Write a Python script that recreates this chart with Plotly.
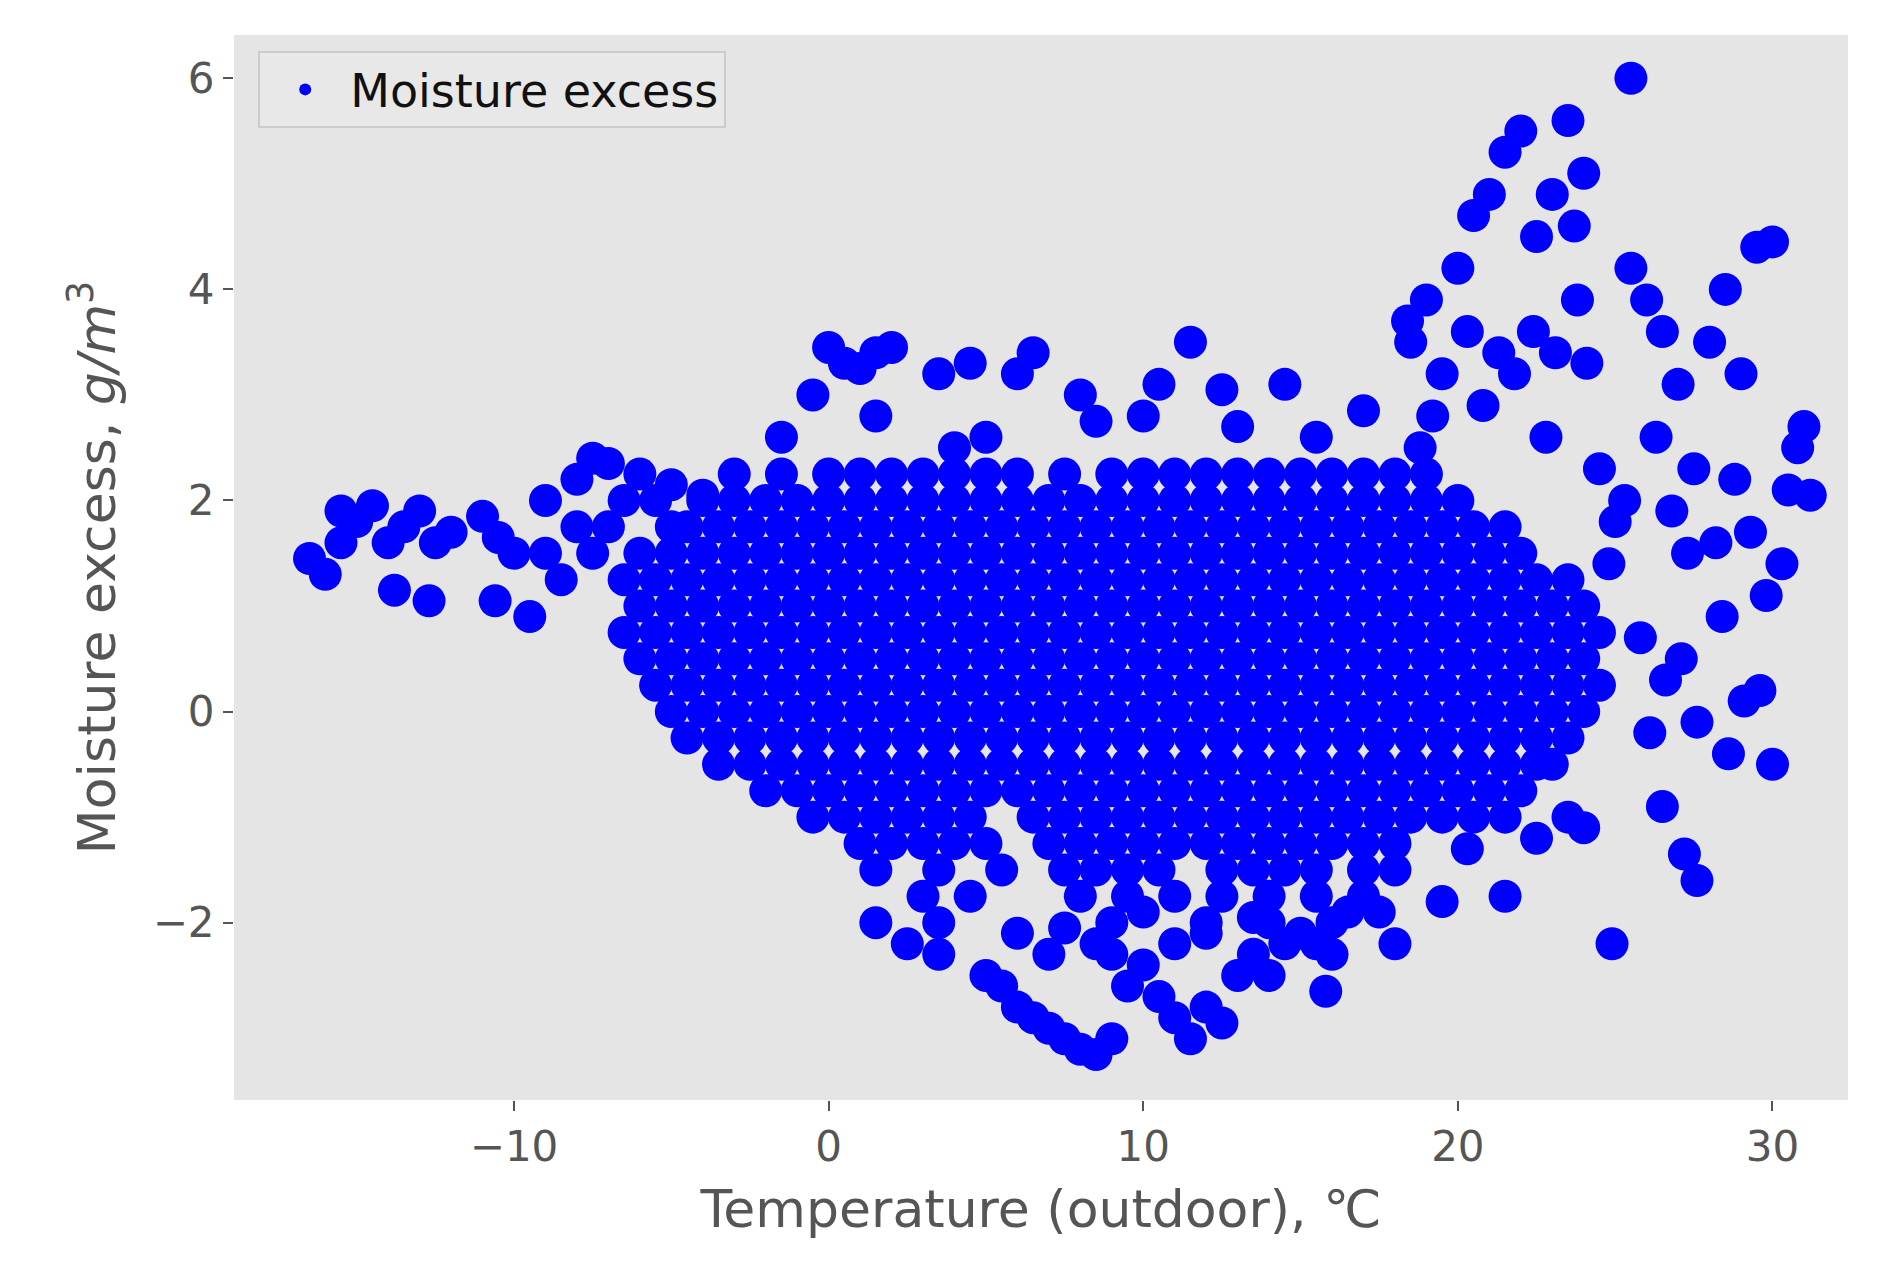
import plotly.graph_objects as go

# dense core of the cloud, read row by row (y level -> x positions)
core_y = [2.25, 2.0, 1.75, 1.5, 1.25, 1.0, 0.75, 0.5, 0.25, 0.0,
          -0.25, -0.5, -0.75, -1.0, -1.25, -1.5, -1.75, -2.0]
core_x = [
    [-3, -1.5, 0, 1, 2, 3, 4, 5, 6, 7.5, 9, 10, 11, 12, 13, 14, 15, 16, 17, 18, 19],
    [-6.5, -5.5, -4, -3, -2, -1, 0, 1, 2, 3, 4, 5, 6, 7, 8, 9, 10, 11, 12, 13, 14, 15, 16, 17, 18, 19, 20],
    [-8, -7, -5, -4.5, -3.5, -2.5, -1.5, -0.5, 0.5, 1.5, 2.5, 3.5, 4.5, 5.5, 6.5, 7.5, 8.5, 9.5, 10.5, 11.5, 12.5, 13.5, 14.5, 15.5, 16.5, 17.5, 18.5, 19.5, 20.5, 21.5],
    [-9, -7.5, -6, -5, -4, -3, -2, -1, 0, 1, 2, 3, 4, 5, 6, 7, 8, 9, 10, 11, 12, 13, 14, 15, 16, 17, 18, 19, 20, 21, 22],
    [-8.5, -6.5, -5.5, -4.5, -3.5, -2.5, -1.5, -0.5, 0.5, 1.5, 2.5, 3.5, 4.5, 5.5, 6.5, 7.5, 8.5, 9.5, 10.5, 11.5, 12.5, 13.5, 14.5, 15.5, 16.5, 17.5, 18.5, 19.5, 20.5, 21.5, 22.5, 23.5],
    [-6, -5, -4, -3, -2, -1, 0, 1, 2, 3, 4, 5, 6, 7, 8, 9, 10, 11, 12, 13, 14, 15, 16, 17, 18, 19, 20, 21, 22, 23, 24],
    [-6.5, -5.5, -4.5, -3.5, -2.5, -1.5, -0.5, 0.5, 1.5, 2.5, 3.5, 4.5, 5.5, 6.5, 7.5, 8.5, 9.5, 10.5, 11.5, 12.5, 13.5, 14.5, 15.5, 16.5, 17.5, 18.5, 19.5, 20.5, 21.5, 22.5, 23.5, 24.5],
    [-6, -5, -4, -3, -2, -1, 0, 1, 2, 3, 4, 5, 6, 7, 8, 9, 10, 11, 12, 13, 14, 15, 16, 17, 18, 19, 20, 21, 22, 23, 24],
    [-5.5, -4.5, -3.5, -2.5, -1.5, -0.5, 0.5, 1.5, 2.5, 3.5, 4.5, 5.5, 6.5, 7.5, 8.5, 9.5, 10.5, 11.5, 12.5, 13.5, 14.5, 15.5, 16.5, 17.5, 18.5, 19.5, 20.5, 21.5, 22.5, 23.5, 24.5],
    [-5, -4, -3, -2, -1, 0, 1, 2, 3, 4, 5, 6, 7, 8, 9, 10, 11, 12, 13, 14, 15, 16, 17, 18, 19, 20, 21, 22, 23, 24],
    [-4.5, -3.5, -2.5, -1.5, -0.5, 0.5, 1.5, 2.5, 3.5, 4.5, 5.5, 6.5, 7.5, 8.5, 9.5, 10.5, 11.5, 12.5, 13.5, 14.5, 15.5, 16.5, 17.5, 18.5, 19.5, 20.5, 21.5, 22.5, 23.5],
    [-3.5, -2.5, -1.5, -0.5, 0.5, 1.5, 2.5, 3.5, 4.5, 5.5, 6.5, 7.5, 8.5, 9.5, 10.5, 11.5, 12.5, 13.5, 14.5, 15.5, 16.5, 17.5, 18.5, 19.5, 20.5, 21.5, 22.5, 23],
    [-2, -1, 0, 1, 2, 3, 4, 5, 6, 7, 8, 9, 10, 11, 12, 13, 14, 15, 16, 17, 18, 19, 20, 21, 22],
    [-0.5, 0.5, 1.5, 2.5, 3.5, 4.5, 6.5, 7.5, 8.5, 9.5, 10.5, 11.5, 12.5, 13.5, 14.5, 15.5, 16.5, 17.5, 18.5, 19.5, 20.5, 21.5],
    [1, 2, 3, 4, 5, 7, 8, 9, 10, 11, 12, 13, 14, 15, 16, 17, 18],
    [1.5, 3.5, 5.5, 7.5, 8.5, 9.5, 10.5, 12.5, 13.5, 14.5, 15.5, 17, 18],
    [3, 4.5, 8, 9.5, 11, 12.5, 14, 15.5, 17],
    [3.5, 9, 12, 14, 16],
]

# scattered points around the core
out_x = [-16.5, -16, -15.5, -15, -14.5, -14, -13.5, -13, -12.5, -12, -11, -10.5, -10, -15.5, -13.8, -12.7, -10.6, -9.5,
         -9, -8, -7, -6, -5, -4, -7.5,
         0, 0.5, 1, 1.5, 2, 3.5, 4.5, 6.5, 6, 8, 11.5, 10.5, 14.5, 17, 12.5,
         -0.5, -1.5, 1.5, 4, 5, 8.5, 10, 13, 15.5,
         18.5, 19, 19.5, 20, 20.5, 21, 21.5, 22, 22.5, 23, 23.5, 24, 25.5, 23.7, 20.3, 21.3, 22.4, 23.1, 24.1,
         19.2, 18.8, 20.8, 21.8, 22.8, 23.8, 18.4,
         24.5, 25, 25.5, 26, 26.5, 27, 27.5, 28, 28.5, 29, 29.5, 30, 30.5, 31,
         24.8, 25.3, 26.3, 26.8, 27.3, 28.2, 28.8, 29.3, 29.8, 30.3, 30.8, 31.2,
         25.8, 26.6, 27.6, 28.4, 29.6, 30.0, 26.1, 27.1, 28.6, 29.1,
         26.5, 27.2, 27.6, 24.9, 21.5, 19.5, 15.8, 16.5,
         5, 5.5, 6, 6.5, 7, 7.5, 8, 8.5, 9, 9.5, 10, 10.5, 11, 11.5, 12, 12.5, 13, 13.5, 14, 14.5, 15, 16,
         6, 7, 7.5, 8.5, 10, 11, 12, 13.5, 15.5, 9, 1.5, 2.5, 3.5, 18, 17.5, 20.3, 22.5, 23.5, 24]
out_y = [1.45, 1.3, 1.6, 1.8, 1.95, 1.6, 1.75, 1.9, 1.6, 1.7, 1.85, 1.65, 1.5, 1.9, 1.15, 1.05, 1.05, 0.9,
         2.0, 2.2, 2.35, 2.25, 2.15, 2.05, 2.4,
         3.45, 3.3, 3.25, 3.4, 3.45, 3.2, 3.3, 3.4, 3.2, 3.0, 3.5, 3.1, 3.1, 2.85, 3.05,
         3.0, 2.6, 2.8, 2.5, 2.6, 2.75, 2.8, 2.7, 2.6,
         3.5, 3.9, 3.2, 4.2, 4.7, 4.9, 5.3, 5.5, 4.5, 4.9, 5.6, 5.1, 6.0, 4.6, 3.6, 3.4, 3.6, 3.4, 3.3,
         2.8, 2.5, 2.9, 3.2, 2.6, 3.9, 3.7,
         2.3, 1.8, 4.2, 3.9, 3.6, 3.1, 2.3, 3.5, 4.0, 3.2, 4.4, 4.45, 2.1, 2.7,
         1.4, 2.0, 2.6, 1.9, 1.5, 1.6, 2.2, 1.7, 1.1, 1.4, 2.5, 2.05,
         0.7, 0.3, -0.1, 0.9, 0.2, -0.5, -0.2, 0.5, -0.4, 0.1,
         -0.9, -1.35, -1.6, -2.2, -1.75, -1.8, -2.65, -1.9,
         -2.5, -2.6, -2.8, -2.9, -3.0, -3.1, -3.2, -3.25, -3.1, -2.6, -2.4, -2.7, -2.9, -3.1, -2.8, -2.95, -2.5, -2.3, -2.5, -2.2, -2.1, -2.3,
         -2.1, -2.3, -2.05, -2.2, -1.9, -2.2, -2.1, -1.95, -2.2, -2.3, -2.0, -2.2, -2.3, -2.2, -1.9, -1.3, -1.2, -1.0, -1.1]

xs, ys = [], []
for yv, row in zip(core_y, core_x):
    xs += row
    ys += [yv] * len(row)
xs += out_x
ys += out_y

fig = go.Figure(go.Scatter(x=xs, y=ys, mode='markers', name='Moisture excess',
                           marker=dict(color='#0000ff', size=33, line=dict(width=0))))

fig.update_layout(
    width=1892, height=1282,
    margin=dict(l=226, r=52, t=27, b=190),
    plot_bgcolor='#e5e5e5', paper_bgcolor='white',
    font=dict(family='DejaVu Sans', color='#555555', size=40),
    showlegend=True,
    legend=dict(x=0.015, y=0.985, xanchor='left', yanchor='top',
                bgcolor='#e8e8e8', bordercolor='#cccccc', borderwidth=2,
                font=dict(size=46, color='#111111'), itemsizing='constant',
                itemwidth=80, tracegroupgap=0),
)
fig.update_xaxes(range=[-18.9, 32.4], tickvals=[-10, 0, 10, 20, 30],
                 ticktext=['\u221210', '0', '10', '20', '30'],
                 showgrid=False, zeroline=False, ticks='outside', ticklen=10, tickwidth=2,
                 tickcolor='#555555', tickfont=dict(size=42),
                 title=dict(text='Temperature (outdoor), \u2103', font=dict(size=52), standoff=20))
fig.update_yaxes(range=[-3.68, 6.41], tickvals=[-2, 0, 2, 4, 6],
                 ticktext=['\u22122', '0', '2', '4', '6'],
                 showgrid=False, zeroline=False, ticks='outside', ticklen=10, tickwidth=2,
                 tickcolor='#555555', tickfont=dict(size=42),
                 title=dict(text='Moisture excess, <i>g/m</i><sup>3</sup>', font=dict(size=52), standoff=20))

fig.write_html("out.html")
